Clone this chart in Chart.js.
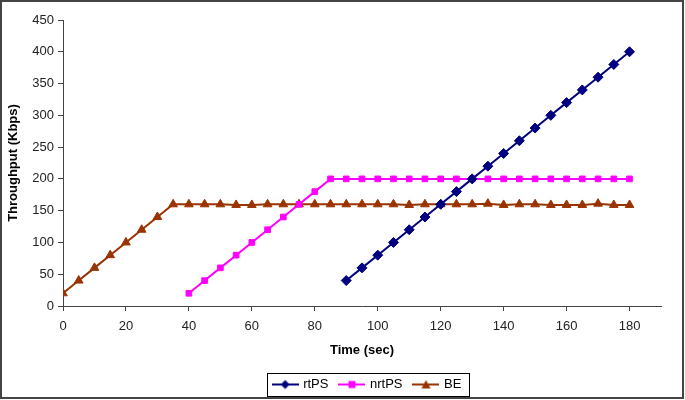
<!DOCTYPE html>
<html>
<head>
<meta charset="utf-8">
<script src="https://cdn.jsdelivr.net/npm/chart.js@4/dist/chart.umd.min.js"></script>
<style>
  html, body { margin: 0; padding: 0; background: #fff; }
  #wrap { width: 685px; height: 400px; position: relative; }
</style>
</head>
<body>
<div id="wrap"><canvas id="chart" width="685" height="400"></canvas></div>
<script>
// Throughput per service class over time

const rtpsTime = [90, 95, 100, 105, 110, 115, 120, 125, 130, 135, 140, 145, 150, 155, 160, 165, 170, 175, 180];
const rtpsValues = [40, 60, 80, 100, 120, 140, 160, 180, 200, 220, 240, 260, 280, 300, 320, 340, 360, 380, 400];

const nrtpsTime = [40, 45, 50, 55, 60, 65, 70, 75, 80, 85, 90, 95, 100, 105, 110, 115, 120, 125, 130,
    135, 140, 145, 150, 155, 160, 165, 170, 175, 180];
const nrtpsValues = [20, 40, 60, 80, 100, 120, 140, 160, 180, 200, 200, 200, 200, 200, 200, 200, 200, 200, 200,
    200, 200, 200, 200, 200, 200, 200, 200, 200, 200];

const beTime = [0, 5, 10, 15, 20, 25, 30, 35, 40, 45, 50, 55, 60, 65, 70, 75, 80, 85, 90, 95, 100, 105, 110,
    115, 120, 125, 130, 135, 140, 145, 150, 155, 160, 165, 170, 175, 180];
const beValues = [20, 40, 60, 80, 100, 120, 140, 160, 160, 160, 160, 159, 159, 160, 160, 160, 160, 160, 160, 160,
    160, 160, 159, 160, 160, 160, 160, 161, 159, 160, 160, 159, 159, 159, 161, 159, 159];

const seriesNames = ['rtPS', 'nrtPS', 'BE'];
const seriesColors = ['#000080', '#ff00ff', '#993300'];
const seriesMarkers = ['rectRot', 'rect', 'triangle'];

const FONT = '"Liberation Sans", Arial, sans-serif';

const toPoints = (xs, ys) => xs.map((x, i) => ({ x: x, y: ys[i] }));

/**
 * Small line + marker icon for the legend, like the spreadsheet legend
 */
function makeLegendIcon(color, marker) {
    const c = document.createElement('canvas');
    c.width = 27;
    c.height = 12;
    const g = c.getContext('2d');
    g.strokeStyle = color;
    g.fillStyle = color;
    g.lineWidth = 2;
    g.beginPath();
    g.moveTo(0, 6);
    g.lineTo(27, 6);
    g.stroke();
    g.beginPath();
    if (marker === 'rectRot') {
        g.moveTo(13.5, 1.5); g.lineTo(18, 6); g.lineTo(13.5, 10.5); g.lineTo(9, 6);
    } else if (marker === 'rect') {
        g.rect(10, 2.5, 7, 7);
    } else {
        g.moveTo(13.5, 1.5); g.lineTo(18, 10); g.lineTo(9, 10);
    }
    g.closePath();
    g.fill();
    return c;
}

const legendIcons = seriesColors.map((c, i) => makeLegendIcon(c, seriesMarkers[i]));

// legend sits a bit right of centre in the original
const legendShift = { id: 'legendShift', afterLayout(chart) {
    const lg = chart.legend;
    if (!lg) return;
    lg.left += 34; lg.right += 34;
    lg.top += 4; lg.bottom += 4;
} };

// outer frame + box around the legend items
const framePlugin = {
    id: 'frame',
    afterDraw(chart) {
        const ctx = chart.ctx;
        ctx.save();
        ctx.strokeStyle = '#000';
        ctx.lineWidth = 1;
        const boxes = chart.legend.legendHitBoxes;
        if (boxes && boxes.length) {
            const left = Math.min(...boxes.map(b => b.left)) - 7;
            const right = Math.max(...boxes.map(b => b.left + b.width)) + 7;
            const top = boxes[0].top - 5;
            const h = boxes[0].height + 10;
            ctx.strokeRect(Math.round(left) + 0.5, Math.round(top) + 0.5, Math.round(right - left), Math.round(h));
        }
        ctx.strokeStyle = '#444';
        ctx.lineWidth = 2;
        ctx.strokeRect(1, 1, chart.width - 3, chart.height - 3);
        ctx.restore();
    }
};

const datasets = [
    toPoints(rtpsTime, rtpsValues),
    toPoints(nrtpsTime, nrtpsValues),
    toPoints(beTime, beValues)
].map((pts, i) => ({
    label: seriesNames[i],
    data: pts,
    borderColor: seriesColors[i],
    backgroundColor: seriesColors[i],
    borderWidth: 2,
    pointStyle: seriesMarkers[i],
    pointRadius: seriesMarkers[i] === 'rect' ? 4 : 5,
    pointBorderWidth: 1,
    tension: 0,
    fill: false
}));

const axisColor = '#444';

new Chart(document.getElementById('chart').getContext('2d'), {
    type: 'line',
    data: { datasets: datasets },
    plugins: [legendShift, framePlugin],
    options: {
        responsive: false,
        animation: false,
        layout: { padding: { top: 20, right: 24, bottom: 3, left: 6 } },
        plugins: {
            tooltip: { enabled: false },
            legend: {
                position: 'bottom',
                labels: {
                    usePointStyle: true,
                    pointStyleWidth: 23,
                    boxHeight: 12,
                    padding: 12,
                    color: '#000',
                    font: { family: FONT, size: 13 },
                    generateLabels(chart) {
                        const items = Chart.defaults.plugins.legend.labels.generateLabels(chart);
                        items.forEach((it, i) => { it.pointStyle = legendIcons[i]; });
                        return items;
                    }
                }
            }
        },
        scales: {
            x: {
                type: 'linear',
                min: 0,
                max: 190,
                border: { color: axisColor, width: 1 },
                grid: { drawOnChartArea: false, drawTicks: true, tickLength: 5, color: axisColor },
                ticks: {
                    stepSize: 20,
                    includeBounds: false,
                    padding: 8,
                    color: '#222',
                    font: { family: FONT, size: 13 }
                },
                title: {
                    display: true,
                    text: 'Time (sec)',
                    color: '#000',
                    padding: { top: 4, bottom: 4 },
                    font: { family: FONT, size: 13, weight: 'bold' }
                },
                afterFit(scale) {
                    const legendH = scale.chart.legend ? scale.chart.legend.height : 0;
                    scale.height = 400 - 3 - legendH - 306;
                }
            },
            y: {
                type: 'linear',
                min: 0,
                max: 450,
                border: { color: axisColor, width: 1 },
                grid: { drawOnChartArea: false, drawTicks: true, tickLength: 5, color: axisColor },
                ticks: {
                    stepSize: 50,
                    padding: 4,
                    color: '#222',
                    font: { family: FONT, size: 13 }
                },
                title: {
                    display: true,
                    text: 'Throughput (Kbps)',
                    color: '#000',
                    padding: { top: 0, bottom: 0 },
                    font: { family: FONT, size: 13, weight: 'bold' }
                },
                afterFit(scale) {
                    scale.width = 63 - 6;
                }
            }
        }
    }
});
</script>
</body>
</html>
